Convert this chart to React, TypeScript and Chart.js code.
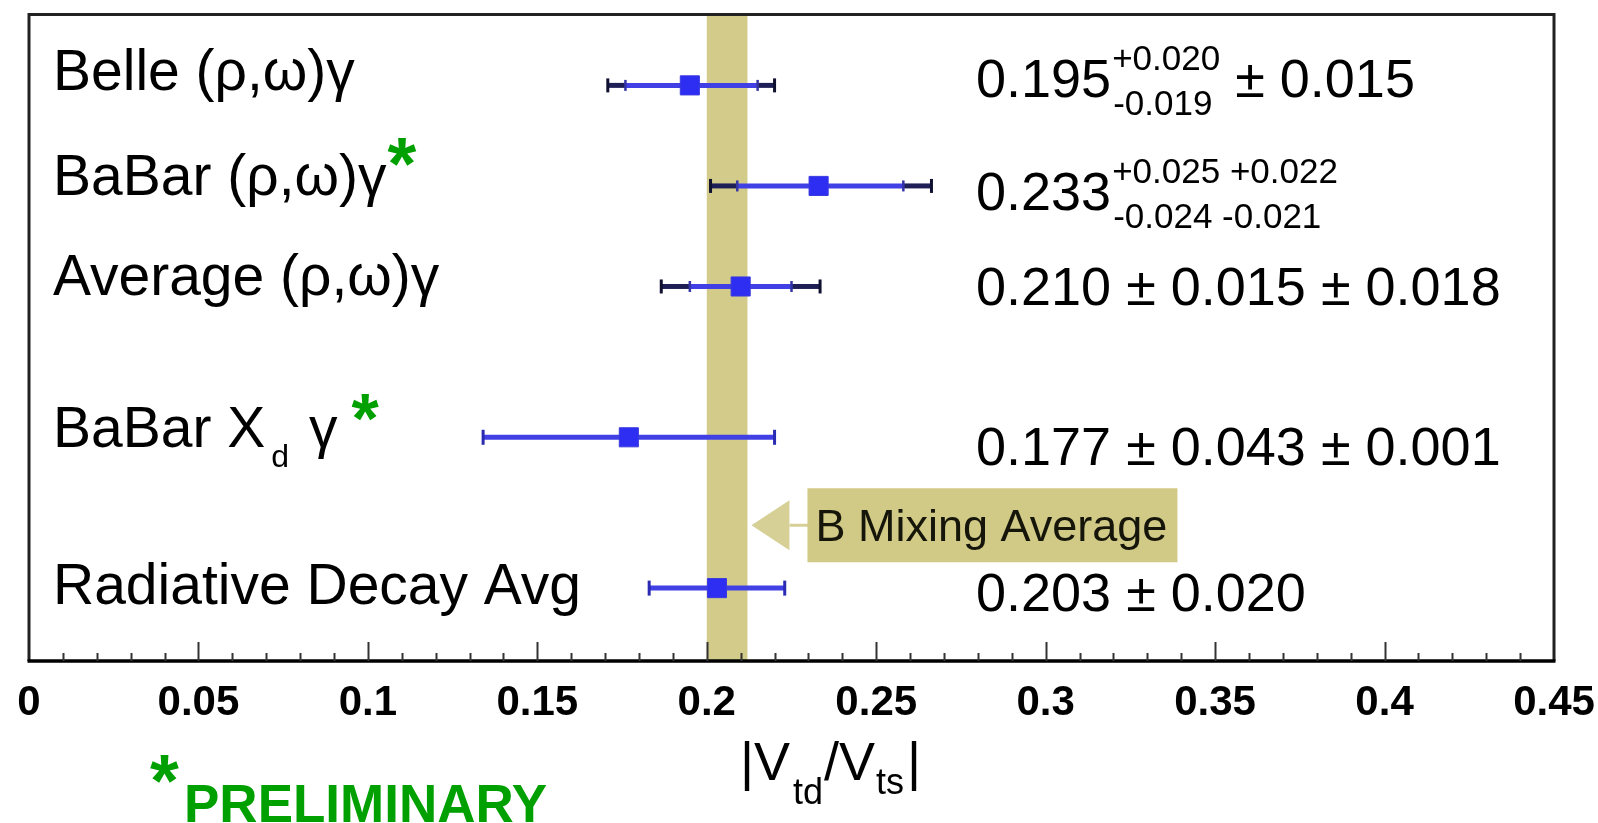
import React, { useEffect, useRef } from 'react';
import { Chart, registerables } from 'chart.js';

Chart.register(...registerables);

// ---- data ----
const rowLabels = ['Belle (ρ,ω)γ', 'BaBar (ρ,ω)γ', 'Average (ρ,ω)γ', 'BaBar X', 'Radiative Decay Avg'];
const rowLabelSubscripts = ['', '', '', 'd', ''];
const rowLabelTails = ['', '', '', ' γ', ''];
const rowPreliminary = [false, true, false, true, false];
const rowPositions = [11.45, 9.45, 7.45, 4.45, 1.45];

const centralValues = [0.195, 0.233, 0.21, 0.177, 0.203];
const statErrPlus = [0.02, 0.025, 0.015, 0.043, 0.02];
const statErrMinus = [0.019, 0.024, 0.015, 0.043, 0.02];
const systErrPlus = [0.015, 0.022, 0.018, 0.001, 0];
const systErrMinus = [0.015, 0.021, 0.018, 0.001, 0];

const valueMain = ['0.195', '0.233', '0.210 ± 0.015 ± 0.018', '0.177 ± 0.043 ± 0.001', '0.203 ± 0.020'];
const valueSup = ['+0.020', '+0.025 +0.022', '', '', ''];
const valueSub = ['-0.019', '-0.024 -0.021', '', '', ''];
const valueTail = ['± 0.015', '', '', '', ''];

const mixingBand = [0.2, 0.212];
const mixingLabel = 'B Mixing Average';
const mixingLabelRow = 2.7;

const xTickValues = [0, 0.05, 0.1, 0.15, 0.2, 0.25, 0.3, 0.35, 0.4, 0.45];
const xTickLabels = ['0', '0.05', '0.1', '0.15', '0.2', '0.25', '0.3', '0.35', '0.4', '0.45'];

// ---- layout (text baseline offsets from each row's marker, px) ----
const labelBaselineDy = [5, 9, 9, 10, 16];
const valueBaselineDy = [12, 24, 19, 28, 23];

const FONT = '"Liberation Sans", Arial, Helvetica, sans-serif';
const GREEN = '#00a000';

const forestPlugin = {
  id: 'forestPlot',
  beforeDatasetsDraw(chart: any) {
    const { ctx, chartArea: ca, scales } = chart;
    const x = scales.x;
    const y = scales.y;
    ctx.save();
    // mixing band
    const bx0 = x.getPixelForValue(mixingBand[0]);
    const bx1 = x.getPixelForValue(mixingBand[1]);
    ctx.fillStyle = '#d3cb89';
    ctx.fillRect(bx0, ca.top, bx1 - bx0, ca.bottom - ca.top);

    const seg = (a: number, b: number, py: number) => {
      ctx.beginPath();
      ctx.moveTo(a, py);
      ctx.lineTo(b, py);
      ctx.stroke();
    };
    const cap = (px: number, py: number, h: number) => {
      ctx.beginPath();
      ctx.moveTo(px, py - h / 2);
      ctx.lineTo(px, py + h / 2);
      ctx.stroke();
    };
    ctx.lineCap = 'butt';
    centralValues.forEach((v, i) => {
      const py = y.getPixelForValue(rowPositions[i]);
      const totP = Math.hypot(statErrPlus[i], systErrPlus[i]);
      const totM = Math.hypot(statErrMinus[i], systErrMinus[i]);
      const xs0 = x.getPixelForValue(v - statErrMinus[i]);
      const xs1 = x.getPixelForValue(v + statErrPlus[i]);
      const xt0 = x.getPixelForValue(v - totM);
      const xt1 = x.getPixelForValue(v + totP);
      const hasSyst = xs0 - xt0 > 3;
      ctx.lineWidth = 5;
      if (hasSyst) {
        ctx.strokeStyle = '#1f1f58';
        seg(xt0, xs0, py);
        seg(xs1, xt1, py);
      }
      ctx.strokeStyle = '#4040e4';
      seg(xs0, xs1, py);
      if (hasSyst) {
        ctx.lineWidth = 3;
        ctx.strokeStyle = '#101030';
        cap(xt0, py, 14);
        cap(xt1, py, 14);
        ctx.lineWidth = 2.5;
        ctx.strokeStyle = '#3434a6';
        cap(xs0, py, 11);
        cap(xs1, py, 11);
      } else {
        ctx.lineWidth = 3;
        ctx.strokeStyle = '#2a2ab2';
        cap(xs0, py, 15);
        cap(xs1, py, 15);
      }
    });
    ctx.restore();
  },
  afterDraw(chart: any) {
    const { ctx, chartArea: ca, scales } = chart;
    const x = scales.x;
    const y = scales.y;
    ctx.save();

    // frame
    ctx.strokeStyle = '#222';
    ctx.lineWidth = 3;
    ctx.beginPath();
    ctx.moveTo(ca.left, ca.bottom);
    ctx.lineTo(ca.left, ca.top);
    ctx.lineTo(ca.right, ca.top);
    ctx.lineTo(ca.right, ca.bottom);
    ctx.stroke();
    ctx.strokeStyle = '#000';
    ctx.lineWidth = 3.5;
    ctx.beginPath();
    ctx.moveTo(ca.left - 1.5, ca.bottom);
    ctx.lineTo(ca.right + 1.5, ca.bottom);
    ctx.stroke();

    // ticks (inside)
    ctx.strokeStyle = '#333';
    ctx.lineWidth = 2;
    for (let k = 1; k < 45; k++) {
      const px = Math.round(x.getPixelForValue(k / 100)) + 0.5;
      const h = k % 5 === 0 ? 19 : 8;
      ctx.beginPath();
      ctx.moveTo(px, ca.bottom);
      ctx.lineTo(px, ca.bottom - h);
      ctx.stroke();
    }

    ctx.textBaseline = 'alphabetic';
    ctx.textAlign = 'left';

    // row labels
    const labelX = ca.left + 24;
    rowLabels.forEach((lab, i) => {
      const py = y.getPixelForValue(rowPositions[i]);
      const base = py + labelBaselineDy[i];
      ctx.fillStyle = '#000';
      ctx.font = `57px ${FONT}`;
      ctx.fillText(lab, labelX, base);
      let cx = labelX + ctx.measureText(lab).width;
      if (rowLabelSubscripts[i]) {
        ctx.font = `32px ${FONT}`;
        ctx.fillText(rowLabelSubscripts[i], cx + 6, base + 20);
        cx += 6 + ctx.measureText(rowLabelSubscripts[i]).width;
      }
      if (rowLabelTails[i]) {
        ctx.font = `57px ${FONT}`;
        ctx.fillText(rowLabelTails[i], cx + 4, base);
        cx += 4 + ctx.measureText(rowLabelTails[i]).width;
      }
      if (rowPreliminary[i]) {
        const sub = !!rowLabelSubscripts[i];
        ctx.fillStyle = GREEN;
        ctx.font = `bold ${sub ? 70 : 74}px ${FONT}`;
        ctx.fillText('*', cx + (sub ? 14 : 1), base - (sub ? 4 : 6));
      }
    });

    // values
    const valueX = ca.left + 947;
    valueMain.forEach((txt, i) => {
      const py = y.getPixelForValue(rowPositions[i]);
      const base = py + valueBaselineDy[i];
      ctx.fillStyle = '#000';
      ctx.font = `54px ${FONT}`;
      ctx.fillText(txt, valueX, base);
      let cx = valueX + ctx.measureText(txt).width;
      if (valueSup[i] || valueSub[i]) {
        ctx.font = `35px ${FONT}`;
        ctx.fillText(valueSup[i], cx + 1, base - 27);
        ctx.fillText(valueSub[i], cx + 2, base + 18);
        const w = Math.max(ctx.measureText(valueSup[i]).width, ctx.measureText(valueSub[i]).width);
        cx += w + 16;
      }
      if (valueTail[i]) {
        ctx.font = `54px ${FONT}`;
        ctx.fillText(valueTail[i], cx, base);
      }
    });

    // B mixing annotation
    const tipX = x.getPixelForValue(mixingBand[1]) + 4;
    const cy = y.getPixelForValue(mixingLabelRow);
    ctx.fillStyle = '#d6d097';
    ctx.beginPath();
    ctx.moveTo(tipX, cy);
    ctx.lineTo(tipX + 38, cy - 25);
    ctx.lineTo(tipX + 38, cy + 25);
    ctx.closePath();
    ctx.fill();
    ctx.strokeStyle = '#d6d097';
    ctx.lineWidth = 3;
    ctx.beginPath();
    ctx.moveTo(tipX + 38, cy);
    ctx.lineTo(tipX + 58, cy);
    ctx.stroke();
    ctx.fillStyle = '#d1c986';
    ctx.fillRect(tipX + 56, cy - 37, 370, 74);
    ctx.fillStyle = '#15150a';
    ctx.font = `45px ${FONT}`;
    ctx.fillText(mixingLabel, tipX + 64, cy + 16);

    // axis title |V_td / V_ts|
    ctx.fillStyle = '#000';
    const tb = 780;
    let tx = 740;
    ctx.font = `54px ${FONT}`;
    ctx.fillText('|V', tx, tb);
    tx += ctx.measureText('|V').width;
    ctx.font = `36px ${FONT}`;
    ctx.fillText('td', tx + 3, tb + 24);
    tx += 3 + ctx.measureText('td').width;
    ctx.font = `54px ${FONT}`;
    ctx.fillText('/V', tx + 1, tb);
    tx += 1 + ctx.measureText('/V').width;
    ctx.font = `36px ${FONT}`;
    ctx.fillText('ts', tx + 1, tb + 14);
    tx += 1 + ctx.measureText('ts').width;
    ctx.font = `54px ${FONT}`;
    ctx.fillText('|', tx + 3, tb);

    // preliminary note
    ctx.fillStyle = GREEN;
    ctx.font = `bold 74px ${FONT}`;
    ctx.fillText('*', 150, 806);
    ctx.font = `bold 53px ${FONT}`;
    ctx.fillText('PRELIMINARY', 184, 822);

    ctx.restore();
  },
};

export default function App() {
  const canvasRef = useRef<HTMLCanvasElement>(null);

  useEffect(() => {
    const canvas = canvasRef.current;
    if (!canvas) return;
    const chart = new Chart(canvas, {
      type: 'scatter',
      data: {
        datasets: [
          {
            data: centralValues.map((v, i) => ({ x: v, y: rowPositions[i] })),
            pointStyle: 'rect',
            pointRadius: 13.5,
            pointHoverRadius: 13.5,
            backgroundColor: '#2e2ef2',
            borderColor: '#3a3ae0',
            borderWidth: 1,
          },
        ],
      },
      options: {
        animation: false,
        responsive: false,
        events: [],
        layout: { padding: { left: 29, right: 44, top: 12, bottom: 0 } },
        plugins: { legend: { display: false }, tooltip: { enabled: false } },
        scales: {
          x: {
            type: 'linear',
            position: 'bottom',
            min: 0,
            max: 0.45,
            afterFit: (s: any) => {
              s.height = 162;
            },
            afterBuildTicks: (s: any) => {
              s.ticks = xTickValues.map((v) => ({ value: v }));
            },
            grid: { display: false, drawTicks: true, tickLength: 17 },
            border: { display: false },
            ticks: {
              padding: 0,
              color: '#000',
              autoSkip: false,
              maxRotation: 0,
              font: { family: FONT, size: 42, weight: 'bold' },
              callback: (_v: any, idx: number) => xTickLabels[idx],
            },
          },
          y: { type: 'linear', min: 0, max: 12.86, display: false },
        },
      } as any,
      plugins: [forestPlugin],
    });
    return () => chart.destroy();
  }, []);

  return (
    <div style={{ position: 'fixed', left: 0, top: 0, width: 1598, height: 823, background: '#fff' }}>
      <canvas ref={canvasRef} width={1598} height={823} style={{ display: 'block' }} />
    </div>
  );
}
